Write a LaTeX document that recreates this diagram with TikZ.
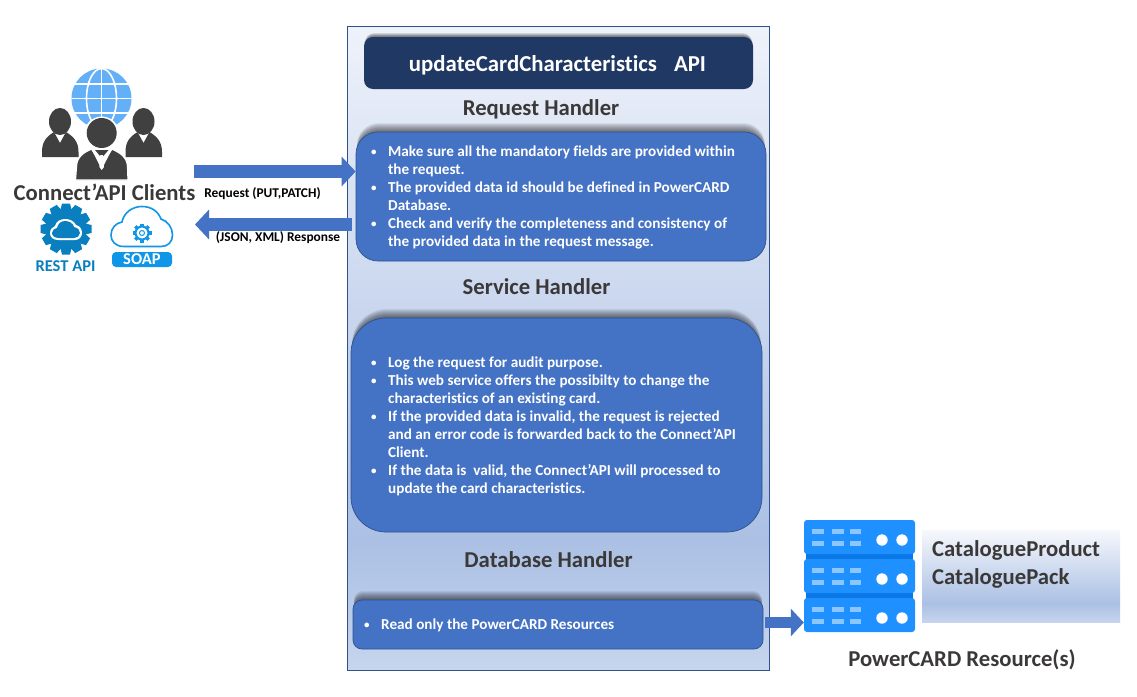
\documentclass[tikz,border=0pt]{standalone}
\usepackage{fontspec}
\setmainfont{Carlito}[Ligatures=NoCommon]
\usetikzlibrary{arrows.meta,calc}
\definecolor{cblue}{HTML}{4472C4}
\definecolor{cedge}{HTML}{2F528F}
\definecolor{cnavy}{HTML}{1F3864}
\definecolor{chead}{HTML}{3B3838}
\definecolor{cman}{HTML}{404040}
\definecolor{cglobe}{HTML}{64B0F8}
\definecolor{cgear}{HTML}{0A7FBF}
\definecolor{csoap}{HTML}{0F96E6}
\definecolor{csrv}{HTML}{1E90FF}
\definecolor{csrvd}{HTML}{0A78E6}
\definecolor{csrvl}{HTML}{8CC6FF}
\definecolor{gbot}{HTML}{C7D5ED}
\definecolor{gmid}{HTML}{ABC0E4}
\definecolor{gtop}{HTML}{EEF2FA}
\pgfdeclareverticalshading{panelgrad}{100bp}{color(0bp)=(gbot); color(25bp)=(gbot); color(35bp)=(gmid); color(75bp)=(gtop); color(100bp)=(gtop)}
\definecolor{wtop}{HTML}{F6F8FC}
\pgfdeclareverticalshading{sidegrad}{100bp}{color(0bp)=(gbot); color(25bp)=(gbot); color(35bp)=(gmid); color(75bp)=(wtop); color(100bp)=(wtop)}
\newcommand{\bul}{\makebox[0pt][r]{{\fontsize{11}{11}\selectfont\raisebox{1pt}{\textbullet}}\hspace{11.5pt}}}
% soft shadow: x1 y1 x2 y2 radius rise
\newcommand{\softshade}[6]{%
  \foreach \k in {1,...,9}{%
    \fill[black,opacity=.07,rounded corners=#5pt]
      (#1+1,#2-#6*\k/9) rectangle (#3-1,#4);}}
\newcommand{\persona}[1]{%
  \begin{scope}[shift={(#1,0)}]
    \fill[cman] (-18,152) .. controls (-18,142) and (-14,137) .. (-6,132) -- (0,143) -- (6,132)
      .. controls (14,137) and (18.5,142) .. (18.5,152) -- (18.5,157) -- (-18,157) -- cycle;
    \fill[cman] (0,121.5) ellipse[x radius=11,y radius=13.5];
  \end{scope}}
\tikzset{
  body text/.style={text=white,font=\bfseries\fontsize{15.2}{18}\selectfont,align=left,anchor=west,inner sep=0pt},
  panel/.style={draw=cedge,line width=.8pt,shading=panelgrad,minimum width=422pt,minimum height=644pt,inner sep=0pt},
  blue box/.style={draw=cedge,line width=.7pt,fill=cblue,inner sep=0pt},
  title box/.style={fill=cnavy,rounded corners=9pt,minimum width=389pt,minimum height=52pt},
  heading/.style={text=chead,font=\bfseries\fontsize{22.7}{26}\selectfont,inner sep=0pt},
  small label/.style={text=black,font=\bfseries\fontsize{13.4}{15}\selectfont,inner sep=0pt},
  block arrow/.style={draw=cblue,line width=13pt,-{Triangle[length=14pt,width=29pt,fill=cblue]}},
  srv unit/.style={fill=csrv,rounded corners=3pt,minimum width=111pt,minimum height=34pt,inner sep=0pt},
  srv bar/.style={fill=csrvl},
}
\begin{document}
\begin{tikzpicture}[x=1pt,y=-1pt]
\useasboundingbox (0,0) rectangle (1137,696);
\fill[white] (0,0) rectangle (1137,696);

% main panel
\node[panel] (panel) at (558.5,348) {};

% title
\softshade{364}{37}{753}{80}{9}{4}
\node[title box] (title) at (558.5,63) {};
\node[text=white,font=\bfseries\fontsize{22.8}{26}\selectfont,inner sep=0pt] (titletext) at (557.5,65) {updateCardCharacteristics\hspace{17pt}API};

% headings
\node[heading] (h1) at (541,109) {Request Handler};
\node[heading] (h2) at (536.5,287) {Service Handler};
\node[heading] (h3) at (548.5,560) {Database Handler};

% request box
\softshade{356}{132}{766}{200}{22}{9}
\node[blue box,rounded corners=22pt,minimum width=410pt,minimum height=129pt] (box1) at (561,196.5) {};
\node[body text] (t1) at (388,197.5) {%
\bul Make sure all the mandatory fields are provided within\\
the request.\\
\bul The provided data id should be defined in PowerCARD\\
Database.\\
\bul Check and verify the completeness and consistency of\\
the provided data in the request message.};

% service box
\softshade{351}{318}{762}{400}{35}{9}
\node[blue box,rounded corners=35pt,minimum width=411pt,minimum height=214pt] (box2) at (556.5,425) {};
\node[body text] (t2) at (388,426) {%
\bul Log the request for audit purpose.\\
\bul This web service offers the possibilty to change the\\
characteristics of an existing card.\\
\bul If the provided data is invalid, the request is rejected\\
and an error code is forwarded back to the Connect’API\\
Client.\\
\bul If the data is\ \ valid, the Connect’API will processed to\\
update the card characteristics.};

% database box
\softshade{353}{600}{763}{640}{9}{9}
\node[blue box,rounded corners=9pt,minimum width=410pt,minimum height=49pt] (box3) at (558,624.5) {};
\node[body text] (t3) at (381,625.5) {\bul Read only the PowerCARD Resources};

% globe
\fill[cglobe] (101.5,98.5) circle[radius=30];
\draw[white,line width=1.6pt] (101.5,68.5) -- (101.5,128.5);
\draw[white,line width=1.6pt] (101.5,98.5) ellipse[x radius=15,y radius=30];
\draw[white,line width=1.6pt] (71.5,98.5) -- (131.5,98.5);
\draw[white,line width=1.6pt] (75,84) -- (128,84);
\draw[white,line width=1.6pt] (75,113) -- (128,113);

% people
\persona{60}
\persona{143.5}
\fill[white] (101.7,134) circle[radius=17.5];
\fill[cman,draw=white,line width=1.2pt] (75.5,180) -- (76.5,167) .. controls (76.5,157) and (84,152) .. (92,149) -- (101.7,168) -- (111.5,149) .. controls (119,152) and (127.5,157) .. (127.5,167) -- (128,180) -- cycle;
\fill[white] (91.5,150) -- (101.7,166) -- (112,150) -- cycle;
\fill[cman] (95,150) -- (101.7,158) -- (108.5,150) -- cycle;
\fill[white] (100.3,155) -- (103.1,155) -- (104,167) -- (101.7,170) -- (99.4,167) -- cycle;
\fill[cman] (101.7,133) circle[radius=15];

% clients label
\node[text=chead,font=\bfseries\fontsize{22.7}{26}\selectfont,inner sep=0pt] (clients) at (104.5,192.5) {Connect’API Clients};

% REST gear
\foreach \a in {0,30,...,330}{
  \fill[cgear,rotate around={\a:(66,229)}] (62,203.5) -- (70,203.5) -- (72,212) -- (60,212) -- cycle;
}
\fill[cgear] (66,229) circle[radius=20];
\fill[white] (58,240) .. controls (53,240) and (50,237) .. (50,233) .. controls (50,229) and (53,227) .. (55,226)
  .. controls (56,221) and (61,219) .. (65,219) .. controls (70,219) and (74,221) .. (76,225)
  .. controls (80,226) and (82,229) .. (82,233) .. controls (82,237) and (79,240) .. (75,240) -- cycle;
\fill[cgear] (59,238) .. controls (55,238) and (52,236) .. (52,233) .. controls (52,230) and (55,228) .. (57,228)
  .. controls (58,223) and (62,221) .. (65,221) .. controls (69,221) and (73,223) .. (74,227)
  .. controls (78,228) and (80,230) .. (80,233) .. controls (80,236) and (77,238) .. (74,238) -- cycle;
\node[text=cgear,font=\bfseries\fontsize{16.5}{18}\selectfont,inner sep=0pt] (rest) at (65.5,266) {REST API};

% SOAP cloud
\draw[csoap,line width=1.6pt,fill=white] (124,246.5) .. controls (115,246.5) and (111,241) .. (111,235) .. controls (111,228) and (116,223) .. (122,222) .. controls (124,212) and (133,206.5) .. (142,206.5) .. controls (151,206.5) and (158,211) .. (161,219) .. controls (168,221) and (172.5,228) .. (172.5,235) .. controls (172.5,242) and (168,246.5) .. (161,246.5) -- cycle;
\foreach \a in {0,45,...,315}{
  \fill[csoap,rotate around={\a:(142,233)}] (140.4,223.5) rectangle (143.6,227);
}
\draw[csoap,line width=2pt] (142,233) circle[radius=6.5];
\draw[csoap,line width=1pt] (142,233) circle[radius=2.5];
\node[fill=csoap,rounded corners=4pt,minimum width=60pt,minimum height=15pt,inner sep=0pt,text=white,font=\bfseries\fontsize{16.5}{15}\selectfont] (soap) at (142,259.5) {SOAP};

% arrows
\coordinate (reqfrom) at (194,171.5);
\coordinate (resfrom) at (352,224.5);
\coordinate (resto) at (195,224.5);
\draw[block arrow] (reqfrom) -- (reqfrom -| box1.west);
\draw[block arrow] (resfrom) -- (resto);
\node[small label] (reqlabel) at (262.5,194) {Request (PUT,PATCH)};
\node[small label] (reslabel) at (278,238) {(JSON, XML) Response};

% servers
\fill[csrvd] (806,550) rectangle (913,602);
\node[srv unit] (srv1) at (859.5,537) {};
\node[srv unit] (srv2) at (859.5,576) {};
\node[srv unit] (srv3) at (859.5,615) {};
\foreach \s in {srv1,srv2,srv3}{
  \foreach \cx in {-47.5,-27.5,-10}{
    \fill[srv bar] ($(\s.center)+(\cx,-8)$) rectangle ++(11.5,5);
    \fill[srv bar] ($(\s.center)+(\cx,4)$) rectangle ++(11.5,5);
  }
  \fill[white] ($(\s.center)+(22.5,3)$) circle[radius=5.7];
  \fill[white] ($(\s.center)+(42.5,3)$) circle[radius=5.7];
}
\coordinate (dbfrom) at ($(box3.east)+(2,-2)$);
\draw[block arrow,line width=11pt,-{Triangle[length=13pt,width=27pt,fill=cblue]}] (dbfrom) -- (dbfrom -| srv3.west);

% side box
\node[shading=sidegrad,minimum width=198pt,minimum height=92pt,inner sep=0pt] (side) at (1021,576) {};
\node[anchor=north west,text=chead,font=\bfseries\fontsize{22.7}{28}\selectfont,align=left,inner sep=0pt] (sidetext) at (932,540) {CatalogueProduct\\CataloguePack};
\node[heading] (pc) at (962,660) {PowerCARD Resource(s)};
\end{tikzpicture}
\end{document}
